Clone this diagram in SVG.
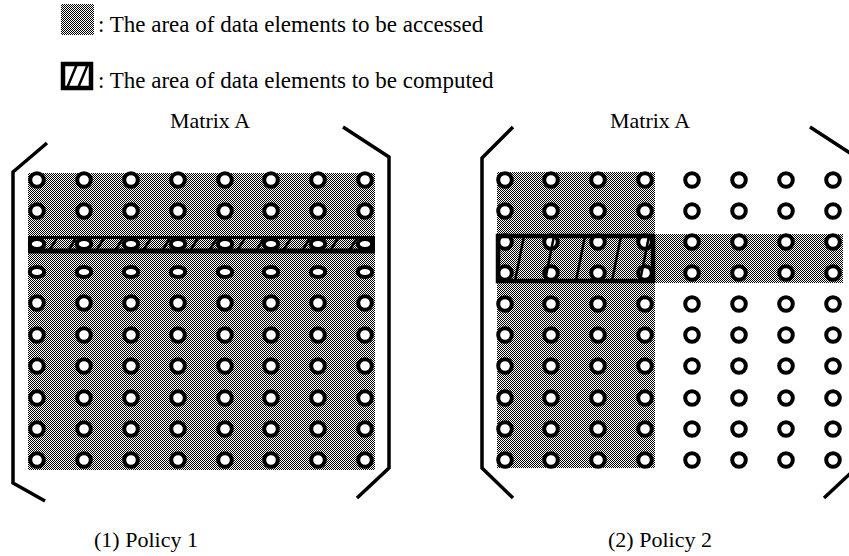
<svg xmlns="http://www.w3.org/2000/svg" width="849" height="556" viewBox="0 0 849 556">
  <style>
    text { font-family: "Liberation Serif", "Times New Roman", serif; fill: #000; }
    .legend { font-size: 23px; }
    .title { font-size: 22px; }
    .el { fill: #fff; stroke: #000; stroke-width: 4; }
    .bracket { fill: none; stroke: #000; stroke-width: 3.5; stroke-linejoin: miter; }
    .box { fill: none; stroke: #000; stroke-width: 4.5; }
    .hatch { stroke: #000; stroke-width: 2.5; }
    .shade { fill: url(#dots); }
  </style>
  <defs>
    <pattern id="dots" patternUnits="userSpaceOnUse" x="0" y="0" width="2" height="2">
      <rect width="2" height="2" fill="#fff"/>
      <rect x="0" y="0" width="1" height="1" fill="#000"/>
      <rect x="1" y="1" width="1" height="1" fill="#000"/>
    </pattern>
    <circle id="c" r="6.8" class="el"/>
    <ellipse id="e" rx="7.2" ry="5" class="el"/>
  </defs>

  <!-- legend -->
  <g id="legend">
    <rect class="shade" x="61" y="4" width="33" height="31"/>
    <text class="legend" x="98" y="32">: The area of data elements to be accessed</text>
    <g>
      <rect x="63" y="64" width="28" height="24" fill="#fff" stroke="#000" stroke-width="4.5"/>
      <line class="hatch" x1="67" y1="88" x2="77" y2="64" stroke-width="3.5"/>
      <line class="hatch" x1="78" y1="88" x2="88" y2="64" stroke-width="3.5"/>
    </g>
    <text class="legend" x="98" y="88">: The area of data elements to be computed</text>
  </g>

  <!-- Policy 1 -->
  <g id="matrix1">
    <text class="title" x="210" y="128" text-anchor="middle">Matrix A</text>
    <polyline class="bracket" points="47,143 13,172 13,483 45,501"/>
    <polyline class="bracket" points="343,127 389,157 389,468 357,498"/>
    <rect class="shade" x="28" y="173" width="347" height="297"/>
    <g id="m1-elements">
      <!-- rows 1..2 -->
      <g transform="translate(0,180)">
        <use href="#c" x="37"/><use href="#c" x="84"/><use href="#c" x="131"/><use href="#c" x="178"/>
        <use href="#c" x="225"/><use href="#c" x="271"/><use href="#c" x="318"/><use href="#c" x="365"/>
      </g>
      <g transform="translate(0,211)">
        <use href="#c" x="37"/><use href="#c" x="84"/><use href="#c" x="131"/><use href="#c" x="178"/>
        <use href="#c" x="225"/><use href="#c" x="271"/><use href="#c" x="318"/><use href="#c" x="365"/>
      </g>
      <!-- row 4 (squeezed) -->
      <g transform="translate(0,272)">
        <use href="#e" x="37"/><use href="#e" x="84"/><use href="#e" x="131"/><use href="#e" x="178"/>
        <use href="#e" x="225"/><use href="#e" x="271"/><use href="#e" x="318"/><use href="#e" x="365"/>
      </g>
      <!-- rows 5..10 -->
      <g transform="translate(0,303)">
        <use href="#c" x="37"/><use href="#c" x="84"/><use href="#c" x="131"/><use href="#c" x="178"/>
        <use href="#c" x="225"/><use href="#c" x="271"/><use href="#c" x="318"/><use href="#c" x="365"/>
      </g>
      <g transform="translate(0,335)">
        <use href="#c" x="37"/><use href="#c" x="84"/><use href="#c" x="131"/><use href="#c" x="178"/>
        <use href="#c" x="225"/><use href="#c" x="271"/><use href="#c" x="318"/><use href="#c" x="365"/>
      </g>
      <g transform="translate(0,366)">
        <use href="#c" x="37"/><use href="#c" x="84"/><use href="#c" x="131"/><use href="#c" x="178"/>
        <use href="#c" x="225"/><use href="#c" x="271"/><use href="#c" x="318"/><use href="#c" x="365"/>
      </g>
      <g transform="translate(0,398)">
        <use href="#c" x="37"/><use href="#c" x="84"/><use href="#c" x="131"/><use href="#c" x="178"/>
        <use href="#c" x="225"/><use href="#c" x="271"/><use href="#c" x="318"/><use href="#c" x="365"/>
      </g>
      <g transform="translate(0,429)">
        <use href="#c" x="37"/><use href="#c" x="84"/><use href="#c" x="131"/><use href="#c" x="178"/>
        <use href="#c" x="225"/><use href="#c" x="271"/><use href="#c" x="318"/><use href="#c" x="365"/>
      </g>
      <g transform="translate(0,460)">
        <use href="#c" x="37"/><use href="#c" x="84"/><use href="#c" x="131"/><use href="#c" x="178"/>
        <use href="#c" x="225"/><use href="#c" x="271"/><use href="#c" x="318"/><use href="#c" x="365"/>
      </g>
    </g>
    <!-- computed row: row 3 -->
    <g id="m1-band">
      <g transform="translate(0,244)">
        <use href="#e" x="37"/><use href="#e" x="84"/><use href="#e" x="131"/><use href="#e" x="178"/>
        <use href="#e" x="225"/><use href="#e" x="271"/><use href="#e" x="318"/><use href="#e" x="365"/>
      </g>
      <g class="hatch">
        <line x1="49" y1="251" x2="57" y2="238"/><line x1="68" y1="251" x2="76" y2="238"/>
        <line x1="96" y1="251" x2="104" y2="238"/><line x1="115" y1="251" x2="123" y2="238"/>
        <line x1="143" y1="251" x2="151" y2="238"/><line x1="162" y1="251" x2="170" y2="238"/>
        <line x1="190" y1="251" x2="198" y2="238"/><line x1="209" y1="251" x2="217" y2="238"/>
        <line x1="237" y1="251" x2="245" y2="238"/><line x1="256" y1="251" x2="264" y2="238"/>
        <line x1="283" y1="251" x2="291" y2="238"/><line x1="302" y1="251" x2="310" y2="238"/>
        <line x1="330" y1="251" x2="338" y2="238"/><line x1="349" y1="251" x2="357" y2="238"/>
      </g>
      <line x1="28" y1="237.5" x2="375" y2="237.5" stroke="#000" stroke-width="3"/>
      <line x1="28" y1="251" x2="375" y2="251" stroke="#000" stroke-width="5"/>
      <line x1="29.5" y1="236" x2="29.5" y2="253" stroke="#000" stroke-width="3"/>
      <line x1="373.5" y1="236" x2="373.5" y2="253" stroke="#000" stroke-width="3"/>
    </g>
    <text class="title" x="146" y="547" text-anchor="middle">(1) Policy 1</text>
  </g>

  <!-- Policy 2 -->
  <g id="matrix2">
    <text class="title" x="650" y="128" text-anchor="middle">Matrix A</text>
    <polyline class="bracket" points="513,127 482,158 482,468 513,498"/>
    <polyline class="bracket" points="810,127 856,157 856,468 824,498"/>
    <rect class="shade" x="497" y="172" width="158" height="296"/>
    <rect class="shade" x="655" y="234" width="188" height="49"/>
    <g id="m2-elements">
      <g transform="translate(0,180)">
        <use href="#c" x="505"/><use href="#c" x="551"/><use href="#c" x="598"/><use href="#c" x="645"/>
        <use href="#c" x="692"/><use href="#c" x="739"/><use href="#c" x="786"/><use href="#c" x="833"/>
      </g>
      <g transform="translate(0,211)">
        <use href="#c" x="505"/><use href="#c" x="551"/><use href="#c" x="598"/><use href="#c" x="645"/>
        <use href="#c" x="692"/><use href="#c" x="739"/><use href="#c" x="786"/><use href="#c" x="833"/>
      </g>
      <g transform="translate(0,242)">
        <use href="#c" x="505"/><use href="#c" x="551"/><use href="#c" x="598"/><use href="#c" x="645"/>
        <use href="#c" x="692"/><use href="#c" x="739"/><use href="#c" x="786"/><use href="#c" x="833"/>
      </g>
      <g transform="translate(0,273)">
        <use href="#c" x="505"/><use href="#c" x="551"/><use href="#c" x="598"/><use href="#c" x="645"/>
        <use href="#c" x="692"/><use href="#c" x="739"/><use href="#c" x="786"/><use href="#c" x="833"/>
      </g>
      <g transform="translate(0,304)">
        <use href="#c" x="505"/><use href="#c" x="551"/><use href="#c" x="598"/><use href="#c" x="645"/>
        <use href="#c" x="692"/><use href="#c" x="739"/><use href="#c" x="786"/><use href="#c" x="833"/>
      </g>
      <g transform="translate(0,335)">
        <use href="#c" x="505"/><use href="#c" x="551"/><use href="#c" x="598"/><use href="#c" x="645"/>
        <use href="#c" x="692"/><use href="#c" x="739"/><use href="#c" x="786"/><use href="#c" x="833"/>
      </g>
      <g transform="translate(0,366)">
        <use href="#c" x="505"/><use href="#c" x="551"/><use href="#c" x="598"/><use href="#c" x="645"/>
        <use href="#c" x="692"/><use href="#c" x="739"/><use href="#c" x="786"/><use href="#c" x="833"/>
      </g>
      <g transform="translate(0,398)">
        <use href="#c" x="505"/><use href="#c" x="551"/><use href="#c" x="598"/><use href="#c" x="645"/>
        <use href="#c" x="692"/><use href="#c" x="739"/><use href="#c" x="786"/><use href="#c" x="833"/>
      </g>
      <g transform="translate(0,429)">
        <use href="#c" x="505"/><use href="#c" x="551"/><use href="#c" x="598"/><use href="#c" x="645"/>
        <use href="#c" x="692"/><use href="#c" x="739"/><use href="#c" x="786"/><use href="#c" x="833"/>
      </g>
      <g transform="translate(0,460)">
        <use href="#c" x="505"/><use href="#c" x="551"/><use href="#c" x="598"/><use href="#c" x="645"/>
        <use href="#c" x="692"/><use href="#c" x="739"/><use href="#c" x="786"/><use href="#c" x="833"/>
      </g>
    </g>
    <!-- computed block: rows 3-4, columns 1-4 -->
    <g id="m2-band">
      <g class="hatch" stroke-width="3.5">
        <line x1="515" y1="281" x2="524" y2="236"/>
        <line x1="545" y1="281" x2="554" y2="236"/>
        <line x1="576" y1="281" x2="585" y2="236"/>
        <line x1="612" y1="281" x2="621" y2="236"/>
        <line x1="640" y1="281" x2="649" y2="236"/>
      </g>
      <rect class="box" x="498" y="236" width="155" height="45"/>
    </g>
    <text class="title" x="660" y="547" text-anchor="middle">(2) Policy 2</text>
  </g>
</svg>
